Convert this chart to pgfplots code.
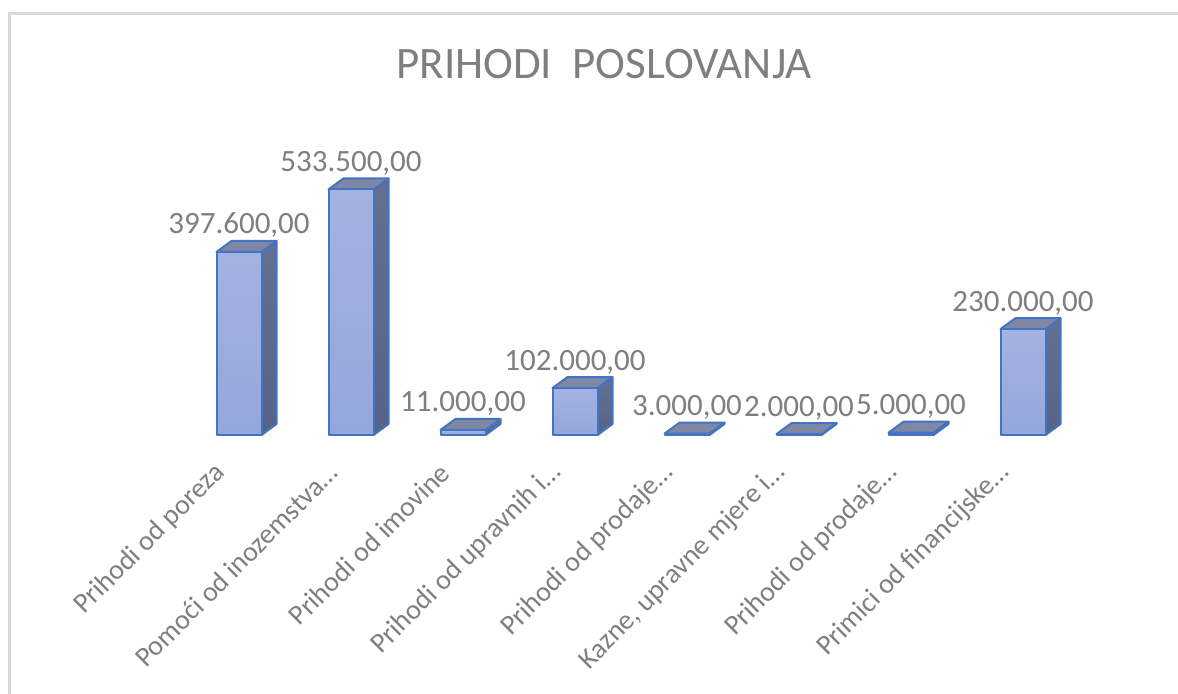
\documentclass[border=0pt]{standalone}
\usepackage{pgfplots}
\pgfplotsset{compat=1.18}
\usepackage{pgfplotstable}
\usepackage{fontspec}
\setmainfont{Carlito}
\definecolor{txtgray}{HTML}{7F7F7F}
\definecolor{edge}{HTML}{4472C4}
\definecolor{fronttop}{HTML}{ABB8E3}
\definecolor{frontbot}{HTML}{8CA1D9}
\definecolor{sidetop}{HTML}{6B7696}
\definecolor{sidebot}{HTML}{4F5D84}
\definecolor{topface}{HTML}{7E88A4}
\definecolor{bordergray}{HTML}{D9D9D9}
\pgfdeclareverticalshading{frontsh}{100bp}{color(0bp)=(frontbot); color(100bp)=(fronttop)}
\pgfdeclareverticalshading{sidesh}{100bp}{color(0bp)=(sidebot); color(100bp)=(sidetop)}
\newcommand\sidepath{%
  \pgfpathmoveto{\pgfqpoint{11.25pt}{0pt}}%
  \pgfpathlineto{\pgfqpoint{18.75pt}{5.5pt}}%
  \pgfpathlineto{\pgfpoint{18.75pt}{5.5pt-\barh pt}}%
  \pgfpathlineto{\pgfpoint{11.25pt}{-\barh pt}}%
  \pgfpathclose}
\newcommand\toppath{%
  \pgfpathmoveto{\pgfqpoint{-11.25pt}{0pt}}%
  \pgfpathlineto{\pgfqpoint{-3.75pt}{5.5pt}}%
  \pgfpathlineto{\pgfqpoint{18.75pt}{5.5pt}}%
  \pgfpathlineto{\pgfqpoint{11.25pt}{0pt}}%
  \pgfpathclose}
\newcommand\frontpath{%
  \pgfpathrectanglecorners{\pgfpoint{-11.25pt}{-\barh pt}}{\pgfqpoint{11.25pt}{0pt}}}
\newcommand\drawbox{%
  \pgfscope
    \pgfsetlinewidth{1pt}\pgfsetroundjoin
    \pgfsetstrokecolor{edge}%
    \sidepath\pgfshadepath{sidesh}{0}\pgfusepath{discard}%
    \sidepath\pgfusepath{stroke}%
    \pgfsetfillcolor{topface}%
    \toppath\pgfusepath{fill,stroke}%
    \frontpath\pgfshadepath{frontsh}{0}\pgfusepath{discard}%
    \frontpath\pgfusepath{stroke}%
  \endpgfscope}
\pgfplotstableread{
x v
0 397600
1 533500
2 11000
3 102000
4 3000
5 2000
6 5000
7 230000
}\datatable
\begin{document}
\begin{tikzpicture}
\useasboundingbox (0,0) rectangle (589pt,-346.5pt);
\draw[bordergray, line width=1.5pt] (4.75pt,-360pt) -- (4.75pt,-6.75pt) -- (600pt,-6.75pt);
\node[anchor=base, text=txtgray, font=\fontsize{22.5}{27}\selectfont, inner sep=0pt] at (302pt,-39pt) {PRIHODI\ \ POSLOVANJA};
\begin{axis}[
  at={(91.5pt,-217.5pt)}, anchor=south west,
  x=56pt, y=0.2302pt,
  xmin=-0.5, xmax=7.5, ymin=0, ymax=560,
  clip=false,
  axis lines*=left,
  axis line style={draw=none},
  ytick=\empty,
  major tick length=0pt,
  xtick={0,...,7},
  xticklabels={Prihodi od poreza, Pomoći od inozemstva…, Prihodi od imovine, Prihodi od upravnih i…, Prihodi od prodaje…, {Kazne, upravne mjere i…}, Prihodi od prodaje…, Primici od financijske…},
  xticklabel style={font=\fontsize{14}{17}\selectfont, text=txtgray, inner sep=0pt, xshift=-9pt, yshift=-16.5pt, rotate=45, anchor=east},
]
% 3D boxes
\addplot[scatter, only marks, mark=*, mark size=0.2pt, color=edge,
  point meta=\thisrow{v},
  visualization depends on={\thisrow{v} \as \rv},
  scatter/@pre marker code/.code={%
    \begingroup
      \pgfkeys{/pgf/fpu=true,/pgf/fpu/output format=fixed}%
      \pgfmathparse{\rv*0.0002302}%
      \xdef\barh{\pgfmathresult}%
    \endgroup
    \drawbox
    \pgfscope
  },
  scatter/@post marker code/.code={\endpgfscope},
] table[x=x, y expr=\thisrow{v}/1000] {\datatable};
% data labels
\addplot[draw=none, mark=none,
  point meta=\thisrow{v},
  nodes near coords={\pgfmathprintnumber[fixed, fixed zerofill, precision=2, use comma, 1000 sep={.}, assume math mode=true]{\pgfplotspointmeta}},
  every node near coord/.append style={anchor=south, yshift=3.5pt, font=\fontsize{15.5}{18}\selectfont, text=txtgray},
] table[x=x, y expr=\thisrow{v}/1000] {\datatable};
\end{axis}
\end{tikzpicture}
\end{document}
